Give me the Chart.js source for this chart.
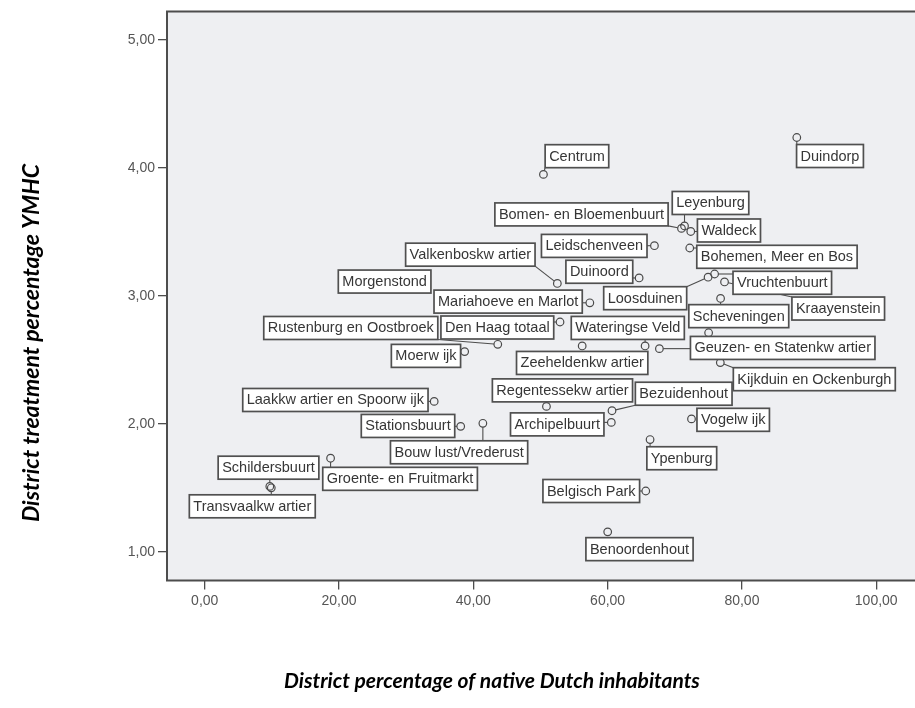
<!DOCTYPE html>
<html>
<head>
<meta charset="utf-8">
<script src="https://cdn.jsdelivr.net/npm/chart.js@4.4.1/dist/chart.umd.min.js"></script>
<style>
  html, body { margin: 0; padding: 0; background: #ffffff; overflow: hidden; }
  #wrap { width: 915px; height: 708px; position: relative; }
</style>
</head>
<body>
<div id="wrap"><canvas id="chart" width="915" height="708"></canvas></div>
<script>
// District names (as printed on the point labels)
const districts = [
  "Centrum", "Duindorp", "Leyenburg", "Bomen- en Bloemenbuurt", "Waldeck",
  "Leidschenveen", "Bohemen, Meer en Bos", "Valkenboskw artier", "Duinoord", "Vruchtenbuurt",
  "Morgenstond", "Mariahoeve en Marlot", "Loosduinen", "Kraayenstein", "Scheveningen",
  "Rustenburg en Oostbroek", "Den Haag totaal", "Wateringse Veld", "Geuzen- en Statenkw artier", "Moerw ijk",
  "Zeeheldenkw artier", "Kijkduin en Ockenburgh", "Regentessekw artier", "Bezuidenhout", "Laakkw artier en Spoorw ijk",
  "Vogelw ijk", "Archipelbuurt", "Stationsbuurt", "Bouw lust/Vrederust", "Ypenburg",
  "Groente- en Fruitmarkt", "Schildersbuurt", "Transvaalkw artier", "Belgisch Park", "Benoordenhout"
];

// District percentage of native Dutch inhabitants
const nativeDutchPct = [
  50.44, 88.17, 71.45, 71.00, 72.38,
  66.97, 72.23, 52.51, 64.69, 75.93,
  75.04, 57.35, 74.96, 77.41, 76.82,
  43.64, 52.91, 65.58, 67.71, 38.71,
  56.21, 76.78, 50.89, 60.65, 34.17,
  72.49, 60.55, 38.12, 41.42, 66.32,
  18.74, 9.69, 9.91, 65.68, 60.01
];

// District treatment percentage YMHC
const treatmentPct = [
  3.950, 4.238, 3.547, 3.528, 3.504,
  3.393, 3.375, 3.098, 3.141, 3.172,
  2.713, 2.947, 3.147, 3.110, 2.981,
  2.623, 2.797, 2.610, 2.589, 2.566,
  2.610, 2.480, 2.138, 2.104, 2.177,
  2.040, 2.013, 1.982, 2.006, 1.879,
  1.733, 1.513, 1.502, 1.477, 1.158
];

// Axis tick values
const xTickValues = [0, 20, 40, 60, 80, 100];
const yTickValues = [1, 2, 3, 4, 5];

// Label box placement: offset (px) of each box centre from its point
const labelOffsets = [
  [33.5, -18.2], [33.2, 18.5], [26, -23], [-100, -14], [38.2, -1],
  [-60.2, 0.2], [87.2, 8.8], [-87, -28.8], [-39.8, -6.2], [67.7, 8.8],
  [-324, -51.2], [-81.7, -1.2], [-62.9, 21], [113.7, 26.6], [18.2, 17.7],
  [-147, -16.3], [-62.7, 5.5], [-17.3, -18], [123.3, -0.7], [-38.7, 4.3],
  [0, 17], [94, 16.6], [16, -16], [71.7, -17], [-98.8, -1.4],
  [41.7, 0.9], [-54.1, 2], [-52.7, -0.4], [-23.8, 29], [31.7, 18.7],
  [69.5, 20.6], [-1.3, -18.7], [-19, 18.5], [-54.5, 0], [31.8, 17.3]
];

const fmt = v => v.toFixed(2).replace('.', ',');
const POINT_R = 3.8;

// Plot background and frame (left, top, bottom edges)
const framePlugin = {
  id: 'frame',
  beforeDraw(chart) {
    const { ctx, chartArea: a } = chart;
    ctx.save();
    ctx.fillStyle = '#eeeff2';
    ctx.fillRect(a.left, a.top, a.right - a.left + 20, a.bottom - a.top);
    ctx.restore();
  },
  afterDraw(chart) {
    const { ctx, chartArea: a } = chart;
    ctx.save();
    ctx.strokeStyle = '#4d4d4d';
    ctx.lineWidth = 2;
    ctx.beginPath();
    ctx.moveTo(a.right + 20, a.top);
    ctx.lineTo(a.left, a.top);
    ctx.lineTo(a.left, a.bottom);
    ctx.lineTo(a.right + 20, a.bottom);
    ctx.stroke();
    ctx.restore();
  }
};

// Boxed point labels with leader lines
const labelPlugin = {
  id: 'pointLabels',
  afterDatasetsDraw(chart) {
    const { ctx } = chart;
    const xs = chart.scales.x, ys = chart.scales.y;
    ctx.save();
    ctx.font = '14.5px Arial, "Liberation Sans", sans-serif';
    ctx.textBaseline = 'middle';
    ctx.textAlign = 'center';
    const boxes = districts.map((name, i) => {
      const px = xs.getPixelForValue(nativeDutchPct[i]);
      const py = ys.getPixelForValue(treatmentPct[i]);
      const w = ctx.measureText(name).width + 8;
      const h = 23;
      const cx = px + labelOffsets[i][0], cy = py + labelOffsets[i][1];
      return { name, px, py, cx, cy, l: cx - w / 2, r: cx + w / 2, t: cy - h / 2, b: cy + h / 2 };
    });
    // leader lines
    ctx.strokeStyle = '#4d4d4d';
    ctx.lineWidth = 1.1;
    boxes.forEach(bx => {
      const nx = Math.min(Math.max(bx.px, bx.l), bx.r);
      const ny = Math.min(Math.max(bx.py, bx.t), bx.b);
      const d = Math.hypot(nx - bx.px, ny - bx.py);
      if (d > POINT_R + 2 && d < 150) {
        const ux = (nx - bx.px) / d, uy = (ny - bx.py) / d;
        ctx.beginPath();
        ctx.moveTo(bx.px + ux * POINT_R, bx.py + uy * POINT_R);
        ctx.lineTo(nx, ny);
        ctx.stroke();
      }
    });
    // boxes and text
    boxes.forEach(bx => {
      ctx.fillStyle = '#ffffff';
      ctx.fillRect(bx.l, bx.t, bx.r - bx.l, bx.b - bx.t);
      ctx.strokeStyle = '#505050';
      ctx.lineWidth = 1.7;
      ctx.strokeRect(bx.l, bx.t, bx.r - bx.l, bx.b - bx.t);
      ctx.fillStyle = '#363636';
      ctx.fillText(bx.name, bx.cx, bx.cy + 0.5);
    });
    ctx.restore();
  }
};

// Axis titles
const titlePlugin = {
  id: 'axisTitles',
  afterDraw(chart) {
    const { ctx } = chart;
    ctx.save();
    ctx.fillStyle = '#000000';
    ctx.textAlign = 'center';
    ctx.textBaseline = 'middle';
    ctx.font = 'italic bold 21px Lato, "Open Sans", sans-serif';
    ctx.fillText('District percentage of native Dutch inhabitants', 492, 681);
    ctx.font = 'italic bold 23px Lato, "Open Sans", sans-serif';
    ctx.translate(32, 343);
    ctx.rotate(-Math.PI / 2);
    ctx.fillText('District treatment percentage YMHC', 0, 0);
    ctx.restore();
  }
};

const tickFont = { family: 'Arial, "Liberation Sans", sans-serif', size: 14 };

new Chart(document.getElementById('chart'), {
  type: 'scatter',
  data: {
    datasets: [{
      data: nativeDutchPct.map((x, i) => ({ x, y: treatmentPct[i] })),
      pointRadius: POINT_R,
      pointHoverRadius: POINT_R,
      pointBorderWidth: 1.2,
      borderColor: '#4a4a4a',
      backgroundColor: 'rgba(0,0,0,0)',
      clip: false
    }]
  },
  options: {
    responsive: false,
    animation: false,
    devicePixelRatio: 1,
    layout: { padding: { top: 9, left: 0, right: 0, bottom: 0 } },
    plugins: { legend: { display: false }, tooltip: { enabled: false } },
    scales: {
      x: {
        type: 'linear',
        min: -5.62,
        max: 105.03,
        afterBuildTicks: s => { s.ticks = xTickValues.map(v => ({ value: v })); },
        afterFit: s => { s.height = 127.5; },
        grid: { drawOnChartArea: false, drawTicks: true, tickLength: 9, color: '#4d4d4d', lineWidth: 1.3 },
        border: { display: false },
        ticks: { autoSkip: false, maxRotation: 0, padding: 3, color: '#555555', font: tickFont, callback: v => fmt(v) }
      },
      y: {
        type: 'linear',
        min: 0.778,
        max: 5.223,
        afterBuildTicks: s => { s.ticks = yTickValues.map(v => ({ value: v })); },
        afterFit: s => { s.width = 167; },
        grid: { drawOnChartArea: false, drawTicks: true, tickLength: 9, color: '#4d4d4d', lineWidth: 1.3 },
        border: { display: false },
        ticks: { autoSkip: false, padding: 3, color: '#555555', font: tickFont, callback: v => fmt(v) }
      }
    }
  },
  plugins: [framePlugin, labelPlugin, titlePlugin]
});
</script>
</body>
</html>
